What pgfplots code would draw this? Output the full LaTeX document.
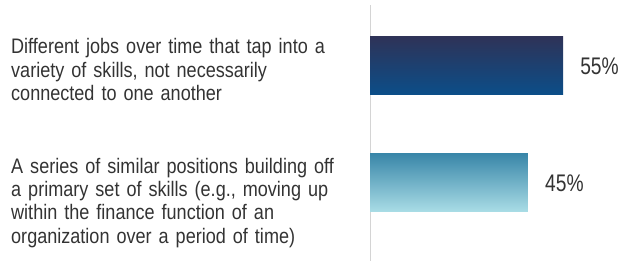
\documentclass[border=0pt]{standalone}
\usepackage{pgfplots}
\pgfplotsset{compat=1.18}
\usepackage{fontspec}
\setmainfont{Liberation Sans}[FakeStretch=0.86]
\newfontfamily\numfont{Liberation Sans}[FakeStretch=0.8]
\definecolor{txt}{HTML}{333333}
\definecolor{aone}{HTML}{2E3358}
\definecolor{bone}{HTML}{0B4E89}
\definecolor{atwo}{HTML}{3A87A9}
\definecolor{btwo}{HTML}{AADDE6}
\definecolor{axl}{HTML}{D4D4D4}
\begin{document}
\begin{tikzpicture}[x=1pt,y=1pt]
\useasboundingbox (0,0) rectangle (630,261);
\node[anchor=base west, inner sep=0pt, text width=380pt, align=left, text=txt,
  font=\fontsize{21}{23.8}\selectfont] at (11,207.7)
  {Different jobs over time that tap into a\\variety of skills, not necessarily\\connected to one another};
\node[anchor=base west, inner sep=0pt, text width=380pt, align=left, text=txt,
  font=\fontsize{21}{23.3}\selectfont] at (11,87.7)
  {A series of similar positions building off\\a primary set of skills (e.g., moving up\\within the finance function of an\\organization over a period of time)};
\begin{axis}[
  at={(370pt,0pt)}, anchor=south west,
  scale only axis, width=260pt, height=256pt,
  xmin=0, xmax=74.07, ymin=0, ymax=256,
  axis x line=none,
  axis y line=left,
  y axis line style={-, draw=axl, line width=1pt},
  ytick=\empty,
  clip=false,
  point meta=x,
  /pgf/number format/assume math mode=true,
  nodes near coords={\pgfmathprintnumber{\pgfplotspointmeta}\%},
  nodes near coords style={anchor=west, inner sep=0pt, xshift=17pt, text=txt,
    font=\numfont\fontsize{24}{26}\selectfont},
]
\addplot[xbar, bar width=58pt, draw=none, top color=aone, bottom color=bone] coordinates {(55,195)};
\addplot[xbar, bar width=58pt, draw=none, top color=atwo, bottom color=btwo] coordinates {(45,78)};
\end{axis}
\end{tikzpicture}
\end{document}
